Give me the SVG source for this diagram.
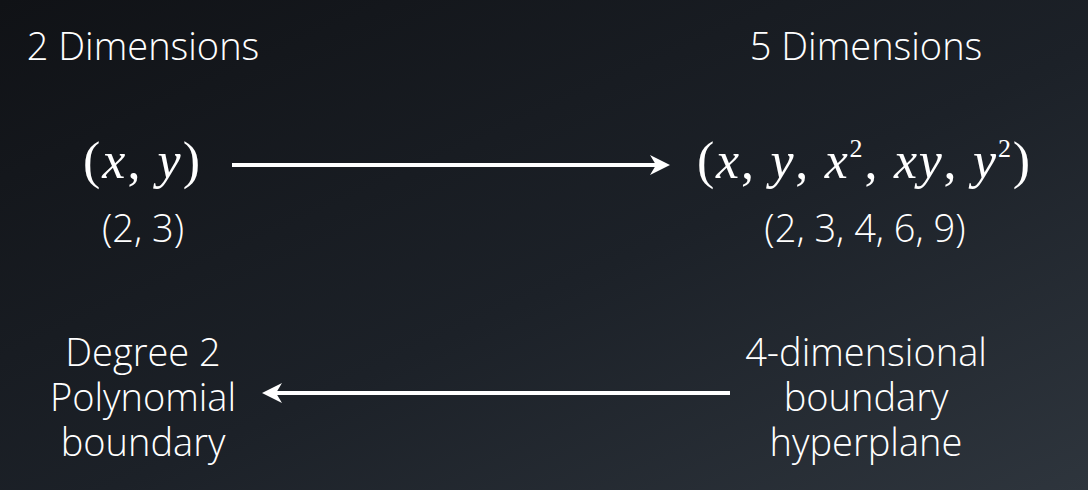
<svg xmlns="http://www.w3.org/2000/svg" width="1088" height="490" viewBox="0 0 1088 490">
<defs>
<linearGradient id="bg" x1="0" y1="0" x2="1" y2="1">
<stop offset="0" stop-color="#101216"/>
<stop offset="0.55" stop-color="#1c2128"/>
<stop offset="1" stop-color="#2e353d"/>
</linearGradient>
<marker id="ah" viewBox="0 0 10 10" refX="8" refY="5" markerWidth="5" markerHeight="5" orient="auto-start-reverse" markerUnits="strokeWidth">
<path d="M0,0 L10,5 L0,10 L3,5 Z" fill="#ffffff"/>
</marker>
<style>
.lbl{font-family:"Open Sans","Noto Sans",sans-serif;fill:#ffffff;text-anchor:middle;font-weight:300}
.big{font-size:38px}
.math{font-family:"Liberation Serif","DejaVu Serif",serif;fill:#ffffff;font-size:52px}
.mi{font-style:italic}
.sup{font-size:26px;font-style:normal}
.con{stroke:#ffffff;stroke-width:4;fill:none}
</style>
</defs>
<rect width="1088" height="490" fill="url(#bg)"/>
<g id="title-2d"><text class="lbl big" x="143" y="60">2 Dimensions</text></g>
<g id="title-5d"><text class="lbl big" x="866" y="60">5 Dimensions</text></g>
<g id="node-xy">
<text class="math" x="83" y="178" textLength="117" lengthAdjust="spacing">(<tspan class="mi">x</tspan>, <tspan class="mi">y</tspan>)</text>
<text class="lbl big" x="143" y="242">(2, 3)</text>
</g>
<g id="node-5d">
<text class="math" x="697" y="178" textLength="333" lengthAdjust="spacing">(<tspan class="mi">x</tspan>, <tspan class="mi">y</tspan>, <tspan class="mi">x</tspan><tspan class="sup" dy="-21">2</tspan><tspan dy="21">, </tspan><tspan class="mi">xy</tspan>, <tspan class="mi">y</tspan><tspan class="sup" dy="-21">2</tspan><tspan dy="21">)</tspan></text>
<text class="lbl big" x="865" y="242">(2, 3, 4, 6, 9)</text>
</g>
<g id="node-poly">
<text class="lbl big" x="143" y="366">Degree 2</text>
<text class="lbl big" x="143" y="411">Polynomial</text>
<text class="lbl big" x="143" y="456">boundary</text>
</g>
<g id="node-hyper">
<text class="lbl big" x="866" y="366">4-dimensional</text>
<text class="lbl big" x="866" y="411">boundary</text>
<text class="lbl big" x="866" y="456">hyperplane</text>
</g>
<g id="connectors">
<line class="con" x1="232" y1="165" x2="666" y2="165" marker-end="url(#ah)"/>
<line class="con" x1="730" y1="393" x2="266" y2="393" marker-end="url(#ah)"/>
</g>
</svg>
